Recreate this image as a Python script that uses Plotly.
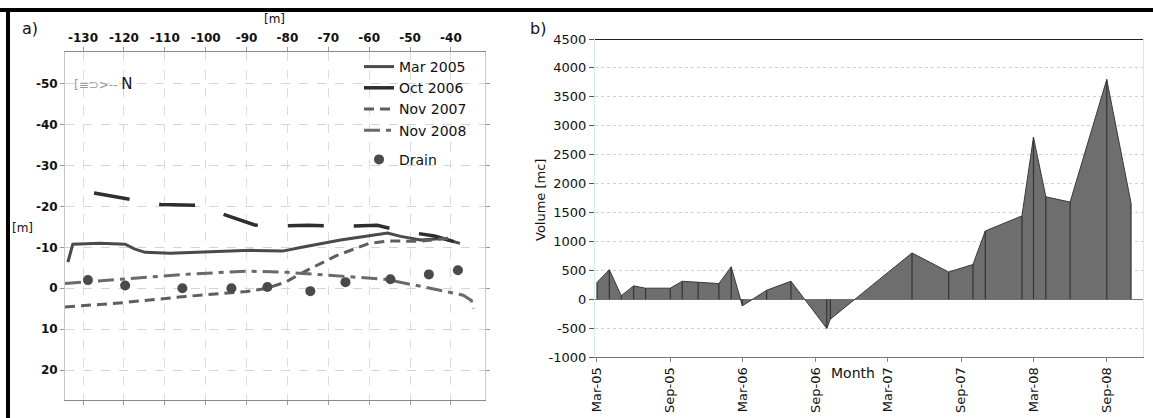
import plotly.graph_objects as go

W, H = 1153, 418
FONT = "DejaVu Sans, Liberation Sans, Arial"

# ---------------- Panel a: profiles ----------------
mar2005_x = [-133.7, -132.5, -125.8, -119.7, -117.3, -114.8, -108.7, -101.3, -89.0, -81.2, -76.8, -67.0, -55.5, -52.3, -47.4, -42.0, -37.8]
mar2005_y = [-6.4, -10.8, -11.0, -10.8, -9.6, -8.8, -8.6, -8.8, -9.3, -9.1, -10.0, -11.8, -13.5, -12.7, -11.8, -12.2, -11.0]

oct2006_x = [-127.3, -118.5, -111.0, -102.0, -95.0, -88.0, -84.0, -75.0, -66.0, -58.0, -52.0, -44.0, -37.8]
oct2006_y = [-23.3, -21.7, -20.5, -20.3, -18.0, -15.5, -15.2, -15.4, -15.2, -15.4, -14.0, -12.8, -11.0]

nov2007_x = [-134.4, -120.0, -105.0, -90.0, -85.0, -80.5, -75.0, -68.0, -60.0, -55.0, -48.0, -40.0]
nov2007_y = [4.6, 3.5, 2.0, 0.8, 0.0, -1.5, -4.5, -8.0, -11.0, -11.6, -11.5, -12.3]

nov2008_x = [-134.4, -120.0, -105.0, -90.0, -80.0, -70.0, -56.0, -46.0, -37.0, -35.0, -34.5]
nov2008_y = [-1.2, -2.2, -3.4, -4.2, -3.9, -3.2, -2.2, -0.2, 1.7, 3.0, 5.0]

drain_x = [-128.8, -119.7, -105.7, -93.7, -84.9, -74.4, -65.8, -54.8, -45.4, -38.3]
drain_y = [-2.0, -0.7, 0.0, 0.0, -0.3, 0.7, -1.5, -2.2, -3.4, -4.4]

a_xticks = [-130, -120, -110, -100, -90, -80, -70, -60, -50, -40]
a_yticks = [-50, -40, -30, -20, -10, 0, 10, 20]

# ---------------- Panel b: volumes ----------------
vol_dates = ["2005-03-01", "2005-04-01", "2005-05-01", "2005-06-01", "2005-07-01", "2005-09-01",
             "2005-10-01", "2005-11-10", "2006-01-01", "2006-02-01", "2006-03-01", "2006-05-01",
             "2006-07-01", "2006-09-29", "2006-10-08", "2007-05-01", "2007-08-01", "2007-10-01",
             "2007-11-01", "2008-02-01", "2008-03-01", "2008-04-01", "2008-06-01", "2008-09-01",
             "2008-11-01"]
vol_values = [290, 510, 60, 230, 190, 190,
              310, 295, 270, 560, -115, 155,
              310, -505, -345, 800, 470, 600,
              1180, 1440, 2800, 1770, 1680, 3800,
              1660]

b_tickvals = ["2005-03-01", "2005-09-01", "2006-03-01", "2006-09-01",
              "2007-03-01", "2007-09-01", "2008-03-01", "2008-09-01"]
b_ticktext = ["Mar-05", "Sep-05", "Mar-06", "Sep-06", "Mar-07", "Sep-07", "Mar-08", "Sep-08"]
b_yticks = [-1000, -500, 0, 500, 1000, 1500, 2000, 2500, 3000, 3500, 4000, 4500]

fig = go.Figure()

fig.add_trace(go.Scatter(x=mar2005_x, y=mar2005_y, mode="lines", name="Mar 2005",
                         line=dict(color="#4a4a4a", width=3), legendgroup="lines",
                         xaxis="x", yaxis="y"))
fig.add_trace(go.Scatter(x=oct2006_x, y=oct2006_y, mode="lines", name="Oct 2006",
                         line=dict(color="#2e2e2e", width=3.5, dash="36px,30px"),
                         legendgroup="lines", xaxis="x", yaxis="y"))
fig.add_trace(go.Scatter(x=nov2007_x, y=nov2007_y, mode="lines", name="Nov 2007",
                         line=dict(color="#5e5e5e", width=3, dash="10px,6px"),
                         legendgroup="lines", xaxis="x", yaxis="y"))
fig.add_trace(go.Scatter(x=nov2008_x, y=nov2008_y, mode="lines", name="Nov 2008",
                         line=dict(color="#6a6a6a", width=3, dash="16px,6px,5px,6px"),
                         legendgroup="lines", xaxis="x", yaxis="y"))
fig.add_trace(go.Scatter(x=drain_x, y=drain_y, mode="markers", name="Drain",
                         marker=dict(color="#4a4a4a", size=10), legendgroup="drain",
                         xaxis="x", yaxis="y"))

# area
fig.add_trace(go.Scatter(x=vol_dates, y=vol_values, mode="lines", fill="tozeroy",
                         fillcolor="#6e6e6e", line=dict(color="#3a3a3a", width=1),
                         showlegend=False, xaxis="x2", yaxis="y2"))
# vertical lines at each sample
vx, vy = [], []
for d, v in zip(vol_dates, vol_values):
    vx += [d, d, None]
    vy += [0, v, None]
fig.add_trace(go.Scatter(x=vx, y=vy, mode="lines", line=dict(color="#333333", width=1.2),
                         showlegend=False, hoverinfo="skip", xaxis="x2", yaxis="y2"))

ax_font = dict(family=FONT, size=12, color="#111", weight="bold")
fig.update_layout(
    width=W, height=H,
    margin=dict(l=0, r=0, t=0, b=0, autoexpand=False),
    paper_bgcolor="white", plot_bgcolor="white",
    font=dict(family=FONT, color="#111"),
    xaxis=dict(domain=[65 / W, 485 / W], range=[-134.41, -31.67], side="top",
               tickvals=a_xticks, ticktext=[str(v) for v in a_xticks],
               ticks="outside", ticklen=4, tickcolor="#999", automargin=False,
               tickfont=ax_font, showgrid=True, gridcolor="#dcdcdc", griddash="dash",
               showline=True, linecolor="#8a8a8a", mirror="ticks", zeroline=False),
    yaxis=dict(domain=[1 - 400 / H, 1 - 52 / H], range=[27.34, -57.83],
               tickvals=a_yticks, ticktext=[str(v) for v in a_yticks],
               ticks="outside", ticklen=4, tickcolor="#999", automargin=False,
               tickfont=ax_font, showgrid=True, gridcolor="#d4d4d4", griddash="dash",
               showline=True, linecolor="#c8c8c8", mirror="ticks", zeroline=False,
               anchor="x"),
    xaxis2=dict(domain=[595 / W, 1143 / W], type="date", range=["2005-02-24", "2008-12-01"],
                tickvals=b_tickvals, ticktext=b_ticktext, tickangle=-90,
                ticks="outside", ticklen=4, tickcolor="#888", automargin=False,
                tickfont=dict(family=FONT, size=13, color="#111"),
                showgrid=False, showline=True, linecolor="#777", anchor="y2"),
    yaxis2=dict(domain=[1 - 357 / H, 1 - 39 / H], range=[-1000, 4500],
                tickvals=b_yticks, ticktext=[str(v) for v in b_yticks],
                ticks="outside", ticklen=5, tickcolor="#555", automargin=False,
                tickfont=dict(family=FONT, size=13, color="#111"),
                showgrid=True, gridcolor="#d0d0d0", griddash="dot",
                zeroline=True, zerolinecolor="#777", zerolinewidth=1,
                showline=True, linecolor="#d8e8e8", mirror=True, anchor="x2"),
    legend=dict(x=359 / W, y=1 - 51 / H, xanchor="left", yanchor="top",
                bgcolor="rgba(255,255,255,0)", font=dict(family=FONT, size=14, color="#111"),
                tracegroupgap=8, traceorder="grouped"),
    showlegend=True,
)

ann = [
    dict(text="a)", x=20 / W, y=1 - 28 / H, xanchor="left", yanchor="middle", font=dict(size=16)),
    dict(text="b)", x=528 / W, y=1 - 28 / H, xanchor="left", yanchor="middle", font=dict(size=16)),
    dict(text="[m]", x=274 / W, y=1 - 19 / H, xanchor="center", yanchor="middle", font=dict(size=12)),
    dict(text="[m]", x=22 / W, y=1 - 228 / H, xanchor="center", yanchor="middle", font=dict(size=12)),
    dict(text="Month", x=853 / W, y=1 - 373 / H, xanchor="center", yanchor="middle", font=dict(size=14)),
    dict(text="Volume [mc]", x=540 / W, y=1 - 200 / H, xanchor="center", yanchor="middle",
         textangle=-90, font=dict(size=13)),
    dict(text='<span style="color:#999;font-size:12px">[≡⊃>-- </span>N', x=72 / W, y=1 - 84 / H,
         xanchor="left", yanchor="middle", font=dict(size=15)),
]
for a in ann:
    a.update(xref="paper", yref="paper", showarrow=False)
    a["font"] = dict(family=FONT, color="#111", **a["font"])
fig.update_layout(annotations=ann)

fig.update_layout(shapes=[
    dict(type="line", xref="paper", yref="paper", x0=0, x1=1, y0=1 - 10 / H, y1=1 - 10 / H,
         line=dict(color="black", width=4)),
    dict(type="line", xref="paper", yref="paper", x0=8 / W, x1=8 / W, y0=0, y1=1 - 8 / H,
         line=dict(color="black", width=4)),
    dict(type="line", xref="x2 domain", yref="y2", x0=0, x1=1, y0=4500, y1=4500,
         line=dict(color="#222", width=2)),
])

fig.write_html("out.html", config={"displayModeBar": False, "displaylogo": False},
               post_script="document.body.style.margin='0';document.body.style.overflow='hidden';")
